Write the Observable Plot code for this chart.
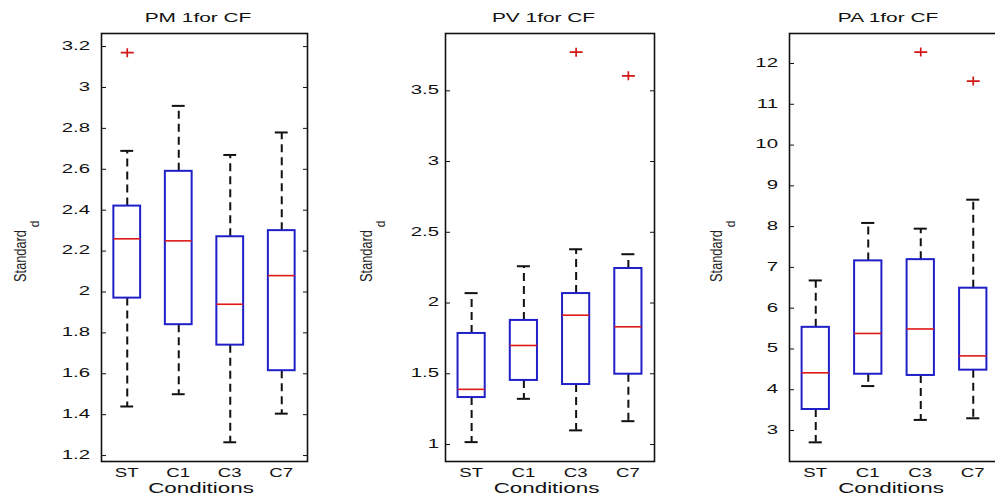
<!DOCTYPE html>
<html><head><meta charset="utf-8">
<script src="https://cdn.jsdelivr.net/npm/d3@7"></script>
<script src="https://cdn.jsdelivr.net/npm/@observablehq/plot@0.6"></script>
<style>
body{margin:0;background:#fff;width:995px;height:502px;overflow:hidden;position:relative;}
.panel{position:absolute;top:0;}
.panel svg{max-width:none !important;}
</style></head><body>
<script>
// ---- data ----
const categories = ["ST", "C1", "C3", "C7"];

const pmHigh   = [2.69, 2.91, 2.67, 2.78];
const pmQ3     = [2.42, 2.59, 2.27, 2.30];
const pmMedian = [2.26, 2.25, 1.94, 2.08];
const pmQ1     = [1.97, 1.84, 1.74, 1.615];
const pmLow    = [1.44, 1.50, 1.265, 1.405];
const pmOutCond = ["ST"];
const pmOutVal  = [3.17];
const pmTicks = [1.2, 1.4, 1.6, 1.8, 2, 2.2, 2.4, 2.6, 2.8, 3, 3.2];

const pvHigh   = [2.07, 2.26, 2.38, 2.345];
const pvQ3     = [1.785, 1.877, 2.067, 2.244];
const pvMedian = [1.39, 1.70, 1.914, 1.832];
const pvQ1     = [1.332, 1.453, 1.424, 1.497];
const pvLow    = [1.017, 1.323, 1.10, 1.165];
const pvOutCond = ["C3", "C7"];
const pvOutVal  = [3.773, 3.606];
const pvTicks = [1, 1.5, 2, 2.5, 3, 3.5];

const paHigh   = [6.68, 8.09, 7.95, 8.66];
const paQ3     = [5.53, 7.16, 7.19, 6.49];
const paMedian = [4.415, 5.38, 5.49, 4.83];
const paQ1     = [3.515, 4.38, 4.35, 4.48];
const paLow    = [2.71, 4.09, 3.26, 3.30];
const paOutCond = ["C3", "C7"];
const paOutVal  = [12.28, 11.57];
const paTicks = [3, 4, 5, 6, 7, 8, 9, 10, 11, 12];

const titles = ["PM 1for CF", "PV 1for CF", "PA 1for CF"];
const xLabel = "Conditions";
const yLabelMain = "Standard";
const yLabelSub = "d";

// ---- layout / panel config ----
const panels = [
  {title: titles[0], high: pmHigh, q3: pmQ3, med: pmMedian, q1: pmQ1, low: pmLow, outCond: pmOutCond, outVal: pmOutVal,
   ticks: pmTicks, domain: [1.171, 3.264], left: 0, width: 330, ml: 101, mr: 23, pad: 11, ylx: 81},
  {title: titles[1], high: pvHigh, q3: pvQ3, med: pvMedian, q1: pvQ1, low: pvLow, outCond: pvOutCond, outVal: pvOutVal,
   ticks: pvTicks, domain: [0.88, 3.905], left: 330, width: 340, ml: 115, mr: 16, pad: 6, ylx: 79},
  {title: titles[2], high: paHigh, q3: paQ3, med: paMedian, q1: paQ1, low: paLow, outCond: paOutCond, outVal: paOutVal,
   ticks: paTicks, domain: [2.24, 12.736], left: 665, width: 334, ml: 124, mr: 0, pad: 11, ylx: 73}
];

const H = 502, MT = 33, MB = 41;
const FONT = "'Liberation Sans', Arial, Helvetica, sans-serif";

const plusSym = {
  draw(context, size) {
    const r = Math.sqrt(size / Math.PI);
    context.moveTo(-r * 1.3, 0); context.lineTo(r * 1.3, 0);
    context.moveTo(0, -r * 0.9); context.lineTo(0, r * 0.9);
  }
};

panels.forEach(p => {
  const rows = categories.map((c, i) => ({cond: c, pos: i + 1, low: p.low[i], q1: p.q1[i], med: p.med[i], q3: p.q3[i], high: p.high[i]}));
  const outs = p.outCond.map((c, i) => ({pos: categories.indexOf(c) + 1, value: p.outVal[i]}));
  const half = 0.26, cap = 0.125;
  const chart = Plot.plot({
    width: p.width, height: H,
    marginLeft: p.ml, marginRight: p.mr, marginTop: MT, marginBottom: MB,
    x: {domain: [0.5, 4.5], axis: null},
    y: {domain: p.domain},
    style: {fontFamily: FONT, fontSize: "12px", color: "#111", background: "transparent", overflow: "visible", maxWidth: "none"},
    marks: [
      Plot.ruleX(rows, {x: "pos", y1: "q3", y2: "high", stroke: "#111", strokeWidth: 2, strokeDasharray: "8,5"}),
      Plot.ruleX(rows, {x: "pos", y1: "q1", y2: "low", stroke: "#111", strokeWidth: 2, strokeDasharray: "8,5"}),
      Plot.ruleY(rows, {y: "high", x1: d => d.pos - cap, x2: d => d.pos + cap, stroke: "#111", strokeWidth: 2}),
      Plot.ruleY(rows, {y: "low", x1: d => d.pos - cap, x2: d => d.pos + cap, stroke: "#111", strokeWidth: 2}),
      Plot.rect(rows, {x1: d => d.pos - half, x2: d => d.pos + half, y1: "q1", y2: "q3", fill: "none", stroke: "#2020c8", strokeWidth: 2}),
      Plot.ruleY(rows, {y: "med", x1: d => d.pos - half, x2: d => d.pos + half, stroke: "#e01818", strokeWidth: 1.6}),
      Plot.dot(outs, {x: "pos", y: "value", symbol: plusSym, r: 5, stroke: "#d01818", strokeWidth: 1.7}),
      Plot.axisY({ticks: p.ticks, tickFormat: () => "", tickSize: -5, label: null}),
      Plot.axisY({ticks: p.ticks, anchor: "right", tickFormat: () => "", tickSize: -5, label: null}),
      Plot.frame({stroke: "#111", strokeWidth: 1.6})
    ]
  });
  chart.style.maxWidth = "none";
  const div = document.createElement("div");
  div.className = "panel";
  div.style.left = p.left + "px";
  div.style.width = p.width + "px";
  div.appendChild(chart);
  document.body.appendChild(div);

  const svg = d3.select(chart);
  const sx = chart.scale("x"), sy = chart.scale("y");
  const fc = p.ml + (p.width - p.ml - p.mr) / 2;
  const g = svg.append("g").attr("font-family", FONT).attr("fill", "#111");

  // y tick labels (positions from Plot's y scale), horizontally stretched like the reference
  g.append("g").attr("font-size", 12).attr("text-anchor", "end")
    .selectAll("text").data(p.ticks).join("text")
    .attr("transform", v => `translate(${p.ml - p.pad},${sy.apply(v)}) scale(1.7,1)`)
    .attr("dy", "0.32em").text(v => String(v));

  // x tick labels (positions from Plot's x scale)
  g.append("g").attr("font-size", 12).attr("text-anchor", "middle")
    .selectAll("text").data(categories).join("text")
    .attr("transform", (c, i) => `translate(${sx.apply(i + 1)},${H - MB + 16}) scale(1.55,1)`)
    .text(c => c);

  // title
  g.append("text").attr("transform", `translate(${fc - 6},22) scale(1.67,1)`).attr("text-anchor", "middle")
    .attr("font-size", 12.5).text(p.title);
  // x label
  g.append("text").attr("transform", `translate(${fc - 3},493) scale(1.6,1)`).attr("text-anchor", "middle")
    .attr("font-size", 14).text(xLabel);
  // y label with subscript
  const ylx = p.ml - p.ylx;
  g.append("text").attr("transform", `translate(${ylx},256) rotate(-90) scale(0.8,1)`).attr("text-anchor", "middle")
    .attr("dy", "0.35em").attr("font-size", 16).attr("fill", "#222").text(yLabelMain);
  g.append("text").attr("transform", `translate(${ylx + 15},224) rotate(-90)`).attr("text-anchor", "middle")
    .attr("dy", "0.35em").attr("font-size", 12).attr("fill", "#222").text(yLabelSub);
});
</script>
</body></html>
